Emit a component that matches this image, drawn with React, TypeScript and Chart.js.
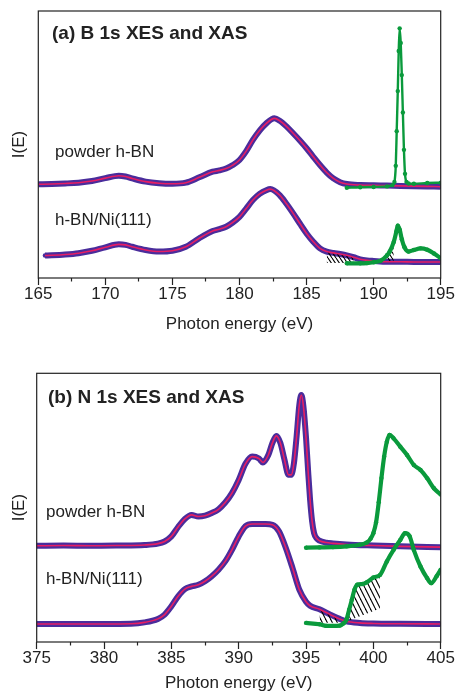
import React, { useEffect, useRef } from "react";
import { Chart, registerables } from "chart.js";

Chart.register(...registerables);

const FONT = "'Liberation Sans', Arial, Helvetica, sans-serif";
const BLUE = "#4a2d9c";
const RED = "#e61e64";
const GREEN = "#0a9a3c";
const INK = "#222222";

// ---------- Panel (a): B 1s ----------
const bRange = [165, 195];
const bPowderXES: number[][] = [
  [165, 35.1], [166, 35.2], [167, 35.4], [168, 35.7], [169, 36.3], [170, 37.4], [171, 38.3], [171.5, 38.0],
  [172, 37.3], [173, 36.1], [174, 35.5], [175, 35.3], [176, 35.7], [177, 37.7], [178, 39.8], [178.5, 40.3],
  [179, 41.0], [179.5, 42.3], [180, 44.2], [180.5, 47.5], [181, 51.7], [181.5, 55.2], [182, 57.9], [182.6, 59.8],
  [183, 58.9], [183.5, 56.8], [184, 54.2], [184.5, 51.5], [185, 48.6], [185.5, 45.4], [186, 42.3], [186.5, 39.5],
  [187, 37.3], [187.5, 35.9], [188, 35.2], [189, 34.8], [190, 34.7], [191, 34.6], [192, 34.5], [193, 34.4],
  [194, 34.3], [195, 34.2],
];
const bNiXES: number[][] = [
  [165.5, 8.4], [166, 8.5], [167, 8.8], [168, 9.3], [169, 10.2], [170, 11.5], [171, 12.6], [171.5, 12.4],
  [172, 11.7], [173, 10.5], [174, 9.9], [175, 10.2], [176, 11.7], [177, 14.9], [178, 17.6], [178.5, 18.3],
  [179, 19.2], [179.5, 20.8], [180, 22.9], [180.5, 26.0], [181, 29.2], [181.5, 31.5], [182, 32.9], [182.3, 33.3],
  [183, 31.0], [183.5, 27.8], [184, 24.2], [184.5, 20.4], [185, 16.7], [185.5, 13.6], [186, 11.1], [186.5, 9.9],
  [187, 9.4], [187.5, 9.0], [188, 8.5], [188.5, 7.8], [189, 7.0], [189.5, 6.6], [190, 6.4], [191, 6.1],
  [192, 6.1], [193, 6.0], [195, 6.0],
];
const bPowderXAS: number[][] = [
  [188, 33.8], [189, 34.0], [190, 34.1], [191, 34.3], [191.4, 34.8], [191.55, 36.0], [191.65, 42.0],
  [191.72, 55.0], [191.8, 70.0], [191.87, 85.0], [191.94, 93.5], [192.02, 88.0], [192.1, 76.0], [192.18, 62.0],
  [192.26, 48.0], [192.34, 39.0], [192.45, 36.0], [192.6, 35.4], [193, 35.3], [194, 35.6], [195, 35.7],
];
const bNiXAS: number[][] = [
  [188, 5.5], [189, 5.5], [189.5, 5.6], [190, 5.9], [190.5, 6.4], [191, 8.5], [191.2, 9.9], [191.5, 13.5],
  [191.7, 17.5], [191.8, 19.6], [191.95, 18.0], [192.1, 14.5], [192.3, 11.5], [192.6, 9.9], [193, 10.5],
  [193.5, 11.1], [194, 10.6], [194.5, 9.2], [195, 7.4],
];
const bHatch1Range = [186.4, 188.6];
const bHatch1Base = 5.6;
const bHatch2Range = [190.6, 191.65];
const bHatch2Base = 6.2;

// ---------- Panel (b): N 1s ----------
const nRange = [375, 405];
const nPowderXES: number[][] = [
  [375, 35.8], [377, 35.9], [379, 35.8], [381, 35.9], [383, 36.1], [384, 36.6], [384.5, 37.4], [385, 39.3],
  [385.5, 42.8], [386, 45.8], [386.5, 47.3], [387, 46.7], [387.5, 47.0], [388, 48.0], [388.5, 49.4], [389, 51.9],
  [389.5, 55.4], [390, 60.3], [390.5, 66.3], [391, 69.0], [391.5, 68.3], [391.8, 66.8], [392.2, 69.6],
  [392.5, 74.0], [392.8, 76.7], [393.1, 74.0], [393.4, 67.8], [393.7, 62.2], [393.9, 62.2], [394.1, 66.5],
  [394.3, 76.5], [394.5, 88.2], [394.65, 91.9], [394.8, 88.0], [395, 76.0], [395.15, 64.0], [395.3, 53.0],
  [395.45, 45.0], [395.6, 40.5], [395.8, 38.5], [396, 37.7], [396.5, 37.0], [397, 36.7], [398, 36.3],
  [400, 35.9], [402, 35.6], [405, 35.3],
];
const nNiXES: number[][] = [
  [375, 6.7], [377, 6.7], [380, 6.7], [382, 6.8], [383, 7.3], [384, 8.6], [384.5, 10.2], [385, 13.3],
  [385.5, 17.0], [386, 19.7], [386.5, 20.7], [387, 21.3], [387.5, 22.6], [388, 24.5], [388.5, 26.9], [389, 30.0],
  [389.5, 34.3], [390, 39.3], [390.5, 43.1], [391, 43.9], [392, 43.9], [392.5, 43.6], [393, 41.1], [393.5, 35.0],
  [394, 27.5], [394.5, 19.5], [395, 15.0], [395.3, 13.5], [396, 12.2], [396.8, 10.2], [397.5, 8.6], [398, 7.7],
  [399, 7.1], [400, 6.9], [402, 6.8], [405, 6.7],
];
const nPowderXAS: number[][] = [
  [395, 35.1], [396, 35.2], [397, 35.3], [398, 35.6], [399, 36.2], [399.5, 37.0], [399.8, 38.5], [400, 40.5],
  [400.2, 44.5], [400.4, 52.0], [400.6, 61.0], [400.8, 69.0], [401, 74.5], [401.2, 77.1], [401.5, 75.8],
  [402, 72.7], [402.5, 69.6], [403, 65.9], [403.5, 64.0], [404, 60.9], [404.5, 57.2], [405, 54.9],
];
const nNiXAS: number[][] = [
  [395, 7.1], [396, 6.6], [396.5, 6.0], [397, 6.0], [397.5, 6.1], [397.8, 7.0], [398, 8.3], [398.2, 12.0],
  [398.4, 15.7], [398.6, 19.5], [398.8, 21.3], [399.2, 21.6], [399.5, 22.2], [400, 24.0], [400.5, 25.0],
  [401, 30.0], [401.5, 34.3], [402, 38.0], [402.35, 40.5], [402.7, 39.3], [403, 34.3], [403.5, 28.1],
  [404, 23.7], [404.3, 21.9], [404.7, 24.5], [405, 26.9],
];
const nHatch1Range = [395.4, 397.7];
const nHatch1Base = 7.2;
const nHatch2Range = [398.2, 400.5];
const nHatch2Base: number[][] = [[398.2, 8.0], [400.5, 12.5]];

const toXY = (arr: number[][]) => arr.map(([x, y]) => ({ x, y }));
const within = (arr: number[][], r: number[]) => arr.filter(([x]) => x >= r[0] && x <= r[1]);

function makeHatch(w: number, h: number) {
  const c = document.createElement("canvas");
  c.width = w;
  c.height = h;
  const g = c.getContext("2d")!;
  g.strokeStyle = "#000";
  g.lineWidth = 1.1;
  for (const dx of [-w, 0, w]) {
    g.beginPath();
    g.moveTo(dx, 0);
    g.lineTo(dx + w, h);
    g.stroke();
  }
  return g.createPattern(c, "repeat");
}

const framePlugin = {
  id: "frame",
  afterDatasetsDraw(chart: any) {
    const { ctx, chartArea: a } = chart;
    ctx.save();
    ctx.strokeStyle = INK;
    ctx.lineWidth = 1.2;
    ctx.strokeRect(a.left, a.top, a.right - a.left, a.bottom - a.top);
    ctx.restore();
  },
};

function xesDatasets(data: number[][]) {
  return [
    {
      data: toXY(data), borderColor: BLUE, backgroundColor: BLUE, borderWidth: 6, pointRadius: 2.3,
      pointBorderWidth: 0, cubicInterpolationMode: "monotone", order: 4, fill: false,
    },
    {
      data: toXY(data), borderColor: RED, borderWidth: 1.6, pointRadius: 0,
      cubicInterpolationMode: "monotone", order: 2, fill: false,
    },
  ];
}

function xasDataset(data: number[][], width: number) {
  return {
    data: toXY(data), borderColor: GREEN, backgroundColor: GREEN, borderWidth: width, pointRadius: 2.2,
    pointBorderWidth: 0, cubicInterpolationMode: "monotone", order: 1, fill: false,
  };
}

function hatchDataset(data: number[][], fill: any, pattern: any) {
  return {
    data: toXY(data), borderColor: "rgba(0,0,0,0)", borderWidth: 0, pointRadius: 0, backgroundColor: pattern,
    cubicInterpolationMode: "monotone", order: 3, fill,
  };
}

function baseConfig(p: any, datasets: any[]) {
  const font = { family: FONT, size: 17 };
  return {
    type: "line",
    data: { datasets },
    plugins: [framePlugin],
    options: {
      responsive: false,
      animation: false,
      devicePixelRatio: 1,
      layout: { padding: { top: p.padTop, right: p.padRight, bottom: p.padBottom, left: 0 } },
      plugins: { legend: { display: false }, tooltip: { enabled: false }, title: { display: false } },
      scales: {
        x: {
          type: "linear",
          min: p.range[0],
          max: p.range[1],
          ticks: {
            stepSize: 2.5, autoSkip: false, maxRotation: 0, padding: -1, color: INK, font,
            callback: (v: number) => (v % 5 === 0 ? String(v) : ""),
          },
          grid: {
            drawOnChartArea: false, tickLength: 7, tickColor: INK, tickWidth: 1.2,
            tickBorderDash: (c: any) => (c.tick && c.tick.value % 5 !== 0 ? [3.5, 30] : []),
          },
          border: { display: false },
          title: { display: true, text: "Photon energy (eV)", color: INK, font, padding: 0 },
          afterFit: (s: any) => { s.height = p.xAxisH; },
        },
        y: {
          min: 0, max: 100,
          ticks: { display: false },
          grid: { display: false },
          border: { display: false },
          title: { display: true, text: "I(E)", color: INK, font, padding: { top: 9, bottom: 0 } },
          afterFit: (s: any) => { s.width = p.yAxisW; },
        },
      },
    },
  };
}

function configA() {
  const pat = makeHatch(4, 6);
  const ds = [
    ...xesDatasets(bPowderXES),
    ...xesDatasets(bNiXES),
    xasDataset(bPowderXAS, 2.4),
    xasDataset(bNiXAS, 4.2),
    hatchDataset(within(bNiXES, bHatch1Range), { value: bHatch1Base }, pat),
    hatchDataset(within(bNiXAS, bHatch2Range), { value: bHatch2Base }, pat),
  ];
  return baseConfig({ range: bRange, padTop: 11, padRight: 15.3, padBottom: 13.8, xAxisH: 56.2, yAxisW: 38.3 }, ds);
}

function configB() {
  const pat = makeHatch(5, 10);
  const ds: any[] = [
    ...xesDatasets(nPowderXES),
    ...xesDatasets(nNiXES),
    xasDataset(nPowderXAS, 4.2),
    xasDataset(nNiXAS, 4.2),
    hatchDataset(within(nNiXES, nHatch1Range), { value: nHatch1Base }, pat),
    { data: toXY(nHatch2Base), borderWidth: 0, pointRadius: 0, borderColor: "rgba(0,0,0,0)", order: 5, fill: false },
  ];
  const baseIndex = ds.length - 1;
  ds.push(hatchDataset(within(nNiXAS, nHatch2Range), baseIndex, pat));
  return baseConfig({ range: nRange, padTop: 25.3, padRight: 15.3, padBottom: 2.8, xAxisH: 51.2, yAxisW: 36.7 }, ds);
}

function ChartCanvas({ top, make }: { top: number; make: () => any }) {
  const ref = useRef<HTMLCanvasElement | null>(null);
  useEffect(() => {
    if (!ref.current) return;
    const chart = new Chart(ref.current, make());
    return () => chart.destroy();
  }, []);
  return (
    <canvas
      ref={ref}
      width={456}
      height={348}
      style={{ position: "absolute", left: 0, top, width: 456, height: 348, display: "block" }}
    />
  );
}

function Label({ left, top, size, bold, children }: any) {
  return (
    <div
      style={{
        position: "absolute", left, top, fontFamily: FONT, fontSize: size, fontWeight: bold ? 700 : 400,
        lineHeight: `${size}px`, color: INK, whiteSpace: "nowrap",
      }}
    >
      {children}
    </div>
  );
}

export default function App() {
  return (
    <div style={{ position: "fixed", left: 0, top: 0, width: 456, height: 696, background: "#fff", overflow: "hidden" }}>
      <ChartCanvas top={0} make={configA} />
      <ChartCanvas top={348} make={configB} />
      <Label left={52} top={23} size={19} bold>(a) B 1s XES and XAS</Label>
      <Label left={55} top={142.5} size={17}>powder h-BN</Label>
      <Label left={55} top={211} size={17}>h-BN/Ni(111)</Label>
      <Label left={48} top={387} size={19} bold>(b) N 1s XES and XAS</Label>
      <Label left={46} top={503} size={17}>powder h-BN</Label>
      <Label left={46} top={570} size={17}>h-BN/Ni(111)</Label>
    </div>
  );
}
